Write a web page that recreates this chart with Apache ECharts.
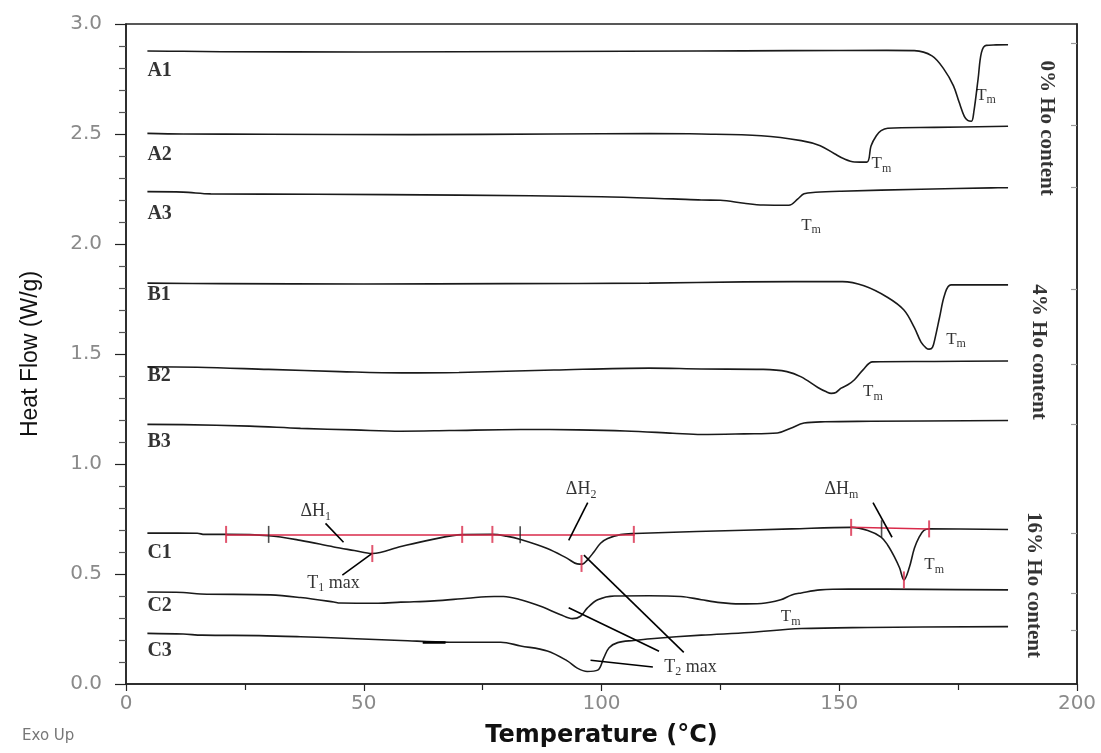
<!DOCTYPE html>
<html>
<head>
<meta charset="utf-8">
<script src="https://cdn.jsdelivr.net/npm/echarts@6/dist/echarts.min.js"></script>
<style>
  html, body { margin: 0; padding: 0; background: #fff; }
  #chart { width: 1101px; height: 753px; }
</style>
</head>
<body>
<div id="chart"></div>
<script>
// DSC heat-flow traces, [temperature (°C), heat flow (W/g)]
const xTickLabels = ['0', '50', '100', '150', '200'];
const yTickLabels = ['0.0', '0.5', '1.0', '1.5', '2.0', '2.5', '3.0'];

const curveA1 = [[4.5,2.877],[12,2.876],[20,2.874],[50,2.873],[90,2.875],[120,2.877],[140,2.879],[160,2.88],[165.8,2.879],[169.5,2.855],[172,2.795],[174,2.72],[175.2,2.645],[176.3,2.58],[177,2.562],[177.8,2.558],[178.3,2.6],[179.2,2.75],[179.9,2.87],[180.9,2.903],[183,2.905],[185.5,2.906]];
const curveA2 = [[4.5,2.503],[12,2.5],[30,2.499],[60,2.497],[90,2.5],[110,2.502],[121,2.5],[133.6,2.492],[142,2.47],[146,2.447],[149,2.41],[151,2.387],[153.2,2.373],[155.8,2.372],[156.7,2.447],[157.8,2.492],[158.8,2.515],[160.2,2.526],[170,2.53],[185.5,2.535]];
const curveA3 = [[4.5,2.238],[12,2.236],[17.8,2.228],[40,2.226],[70,2.222],[100,2.215],[115,2.205],[121,2.2],[125,2.199],[130,2.185],[134,2.177],[139.4,2.176],[141.3,2.205],[142.6,2.228],[145,2.235],[150.4,2.24],[167.2,2.249],[182,2.255],[185.5,2.256]];
const curveB1 = [[4.5,1.822],[20,1.82],[50,1.818],[80,1.82],[110,1.822],[130,1.828],[150.7,1.829],[155.2,1.81],[160.2,1.757],[163.6,1.70],[165.8,1.62],[167.2,1.554],[168.3,1.527],[168.9,1.522],[169.6,1.53],[170.2,1.577],[171.1,1.667],[172.2,1.772],[173.5,1.814],[185.5,1.814]];
const curveB2 = [[4.5,1.442],[15,1.44],[30,1.43],[45,1.42],[58,1.414],[70,1.416],[90,1.427],[110,1.436],[121,1.432],[134,1.43],[139,1.42],[142,1.396],[145.5,1.348],[147.3,1.328],[148.3,1.321],[149.3,1.325],[150.4,1.345],[151.8,1.36],[153.2,1.383],[155,1.428],[157,1.464],[170,1.466],[185.5,1.468]];
const curveB3 = [[4.5,1.18],[12,1.179],[26,1.172],[36.7,1.162],[48,1.155],[57.8,1.149],[68,1.152],[83,1.157],[95,1.155],[105,1.15],[115,1.14],[121,1.134],[130,1.137],[137,1.141],[139.8,1.163],[142.6,1.186],[147,1.192],[156.7,1.194],[185.5,1.198]];
const curveC1 = [[4.5,0.686],[15,0.685],[16.5,0.68],[21,0.68],[30,0.674],[36.7,0.653],[43.7,0.623],[48,0.607],[51.8,0.593],[57.8,0.625],[64,0.655],[70.8,0.679],[77,0.68],[80,0.672],[83,0.657],[88.6,0.616],[92.8,0.571],[94.9,0.546],[96,0.545],[97,0.563],[98.4,0.60],[99.8,0.64],[101.3,0.661],[104,0.679],[107,0.684],[120,0.693],[140,0.705],[152.5,0.712],[156,0.698],[158.8,0.668],[160.2,0.631],[161.6,0.578],[162.7,0.527],[163.6,0.473],[164.7,0.527],[165.8,0.617],[166.8,0.668],[167.8,0.698],[168.9,0.705],[185.5,0.702]];
const curveC2 = [[4.5,0.418],[12,0.416],[15.7,0.409],[30.4,0.405],[36.7,0.393],[43.7,0.373],[45,0.368],[53,0.367],[57.8,0.372],[64.8,0.378],[71.8,0.39],[77.4,0.398],[79.4,0.398],[83,0.383],[87.2,0.353],[91.4,0.315],[93.9,0.297],[95.6,0.308],[97,0.345],[99.2,0.383],[102.7,0.40],[110,0.401],[116.7,0.398],[121,0.383],[125,0.37],[129,0.364],[133.6,0.366],[137.7,0.383],[140,0.405],[142,0.414],[146,0.428],[152,0.432],[168,0.43],[185.5,0.428]];
const curveC3 = [[4.5,0.23],[12,0.227],[16,0.222],[28,0.22],[36.7,0.215],[47,0.207],[57.8,0.198],[68,0.19],[78.8,0.19],[83,0.173],[88.6,0.15],[92.8,0.105],[94.9,0.072],[97,0.057],[99.2,0.063],[100.5,0.12],[101.6,0.165],[103.4,0.188],[106.8,0.198],[110.4,0.206],[121,0.222],[131,0.234],[142,0.252],[156,0.257],[185.5,0.261]];

const curves = [
  ['A1', curveA1], ['A2', curveA2], ['A3', curveA3],
  ['B1', curveB1], ['B2', curveB2], ['B3', curveB3],
  ['C1', curveC1], ['C2', curveC2], ['C3', curveC3]
];

// heat-flow levels marked on the right-hand axis
const rightTicks = [2.913, 2.541, 2.26, 1.794, 1.453, 1.182, 0.686, 0.413, 0.243];

// sample names, anchored at [name, T, W/g]
const sampleLabels = [
  ['A1', 4.5, 2.786], ['A2', 4.5, 2.405], ['A3', 4.5, 2.135],
  ['B1', 4.5, 1.770], ['B2', 4.5, 1.401], ['B3', 4.5, 1.099],
  ['C1', 4.5, 0.595], ['C2', 4.5, 0.354], ['C3', 4.5, 0.151]
];
const groupLabels = [
  ['0% Ho content', 193.5, 2.527],
  ['4% Ho content', 191.9, 1.509],
  ['16% Ho content', 190.8, 0.45]
];
// melting-peak markers
const tmLabels = [[178.8, 2.676], [156.8, 2.365], [142, 2.086], [172.5, 1.568], [155, 1.329], [167.9, 0.541], [137.7, 0.306]];
// [base, subscript, suffix, T, W/g]
const peakLabels = [
  ['ΔH', '1', '', 36.7, 0.784],
  ['ΔH', '2', '', 92.5, 0.883],
  ['ΔH', 'm', '', 146.9, 0.883],
  ['T', '1', ' max', 38.1, 0.459],
  ['T', '2', ' max', 113.2, 0.078]
];
// leader lines [T1, W/g1, T2, W/g2]
const leaderLines = [
  [41.96, 0.730, 45.75, 0.644],
  [45.5, 0.495, 51.85, 0.595],
  [97.1, 0.824, 93.1, 0.653],
  [157.1, 0.824, 161.1, 0.667],
  [96.3, 0.586, 117.3, 0.144],
  [93.1, 0.347, 112.1, 0.149],
  [97.7, 0.108, 110.8, 0.077]
];
const dashMark = [62.4, 0.188, 67.2, 0.188];
// integration baselines and limit markers on C1
const baselines = [[21, 0.68, 107, 0.68], [152.5, 0.712, 168.9, 0.705]];
const redMarkers = [[21.05, 0.68], [70.7, 0.68], [77.05, 0.68], [106.8, 0.68], [51.8, 0.593], [95.8, 0.548], [152.5, 0.712], [168.9, 0.705], [163.6, 0.473]];
const blackMarkers = [[30, 0.68], [82.9, 0.678], [158.9, 0.706]];

const RED = '#d92a4a';
const INK = '#1a1a1a';
const SERIF = '"Liberation Serif", "Times New Roman", serif';

const chart = echarts.init(document.getElementById('chart'), null, { renderer: 'canvas' });

const series = [];
curves.forEach(([name, pts]) => {
  series.push({
    name, type: 'line', data: pts, showSymbol: false, smooth: 0.35,
    lineStyle: { color: INK, width: 1.6 }, silent: true, z: 3
  });
});

const segs = (arr) => arr.map(s => ({ coords: [[s[0], s[1]], [s[2], s[3]]] }));

series.push({
  type: 'lines', coordinateSystem: 'cartesian2d', data: segs(baselines),
  lineStyle: { color: RED, width: 1.5, opacity: 1 }, silent: true, z: 4
});
series.push({
  type: 'lines', coordinateSystem: 'cartesian2d', data: segs(leaderLines),
  lineStyle: { color: '#000', width: 1.6, opacity: 1 }, silent: true, z: 5
});
series.push({
  type: 'lines', coordinateSystem: 'cartesian2d', data: segs([dashMark]),
  lineStyle: { color: '#000', width: 2.5, opacity: 1 }, silent: true, z: 5
});
series.push({
  type: 'scatter', data: redMarkers, symbol: 'rect', symbolSize: [2, 17],
  itemStyle: { color: RED }, silent: true, z: 6
});
series.push({
  type: 'scatter', data: blackMarkers, symbol: 'rect', symbolSize: [1.6, 17],
  itemStyle: { color: '#222' }, silent: true, z: 6
});

// text annotations
series.push({
  type: 'scatter', symbolSize: 0, silent: true, z: 7,
  data: sampleLabels.map(d => ({ value: [d[1], d[2]], name: d[0] })),
  label: { show: true, position: 'right', distance: 0, formatter: p => p.name,
    fontFamily: SERIF, fontWeight: 'bold', fontSize: 20, color: '#000' }
});
series.push({
  type: 'scatter', symbolSize: 0, silent: true, z: 7,
  data: groupLabels.map(d => ({ value: [d[1], d[2]], name: d[0] })),
  label: { show: true, position: 'inside', rotate: -90, formatter: p => p.name,
    fontFamily: SERIF, fontWeight: 'bold', fontSize: 21, color: '#000' }
});
series.push({
  type: 'scatter', symbolSize: 0, silent: true, z: 7,
  data: tmLabels,
  label: { show: true, position: 'right', distance: 0, formatter: '{b|T}{s|m}',
    rich: {
      b: { fontFamily: SERIF, fontSize: 17, color: '#000', lineHeight: 22, verticalAlign: 'middle' },
      s: { fontFamily: SERIF, fontSize: 12, color: '#000', lineHeight: 12, verticalAlign: 'bottom' }
    } }
});
series.push({
  type: 'scatter', symbolSize: 0, silent: true, z: 7,
  data: peakLabels.map(d => ({ value: [d[3], d[4]], name: d[0], base: d[0], sub: d[1], suf: d[2] })),
  label: { show: true, position: 'right', distance: 0,
    formatter: p => '{b|' + p.data.base + '}{s|' + p.data.sub + '}' + (p.data.suf ? '{b|' + p.data.suf + '}' : ''),
    rich: {
      b: { fontFamily: SERIF, fontSize: 18, color: '#000', lineHeight: 22, verticalAlign: 'middle' },
      s: { fontFamily: SERIF, fontSize: 12, color: '#000', lineHeight: 12, verticalAlign: 'bottom' }
    } }
});

const option = {
  animation: false,
  backgroundColor: '#fff',
  grid: { left: 126, right: 24, top: 24, bottom: 63, show: true, borderColor: '#222', borderWidth: 1.5, backgroundColor: 'transparent' },
  xAxis: {
    type: 'value', min: 0, max: 200, interval: 50,
    name: 'Temperature (°C)', nameLocation: 'middle', nameGap: 40,
    nameTextStyle: { fontFamily: '"DejaVu Sans", sans-serif', fontWeight: 'bold', fontSize: 24, color: '#111' },
    axisLine: { show: true, onZero: false, lineStyle: { color: '#222', width: 1.5 } },
    axisTick: { show: true, inside: false, length: 7, lineStyle: { color: '#222', width: 1.2 } },
    minorTick: { show: true, splitNumber: 2, length: 6, lineStyle: { color: '#222', width: 1.2 } },
    axisLabel: { margin: 10, color: '#8a8a8a', fontFamily: '"DejaVu Sans", sans-serif', fontSize: 20,
      formatter: v => xTickLabels[Math.round(v / 50)] },
    splitLine: { show: false }
  },
  yAxis: [{
    type: 'value', min: 0, max: 3, interval: 0.5, position: 'left',
    name: 'Heat Flow (W/g)', nameLocation: 'middle', nameGap: 84, nameRotate: 90,
    nameTextStyle: { fontFamily: '"Liberation Sans", Arial, sans-serif', fontSize: 23, color: '#111' },
    axisLine: { show: true, onZero: false, lineStyle: { color: '#222', width: 1.5 } },
    axisTick: { show: true, inside: false, length: 11, lineStyle: { color: '#222', width: 1.2 } },
    minorTick: { show: true, splitNumber: 5, length: 7, lineStyle: { color: '#555', width: 1.2 } },
    axisLabel: { margin: 24, color: '#8a8a8a', fontFamily: '"DejaVu Sans", sans-serif', fontSize: 20,
      formatter: v => yTickLabels[Math.round(v / 0.5)] },
    splitLine: { show: false }
  }, {
    type: 'value', min: 0, max: 3, position: 'right',
    axisLine: { show: true, onZero: false, lineStyle: { color: '#222', width: 1.5 } },
    axisTick: { show: true, inside: true, length: 6, customValues: rightTicks, lineStyle: { color: '#999', width: 1.2 } },
    axisLabel: { show: false },
    splitLine: { show: false }
  }],
  graphic: [{
    type: 'text', left: 22, top: 729,
    style: { text: 'Exo Up', fill: '#777', font: '15px "DejaVu Sans", sans-serif' }
  }],
  series
};

chart.setOption(option);
</script>
</body>
</html>
